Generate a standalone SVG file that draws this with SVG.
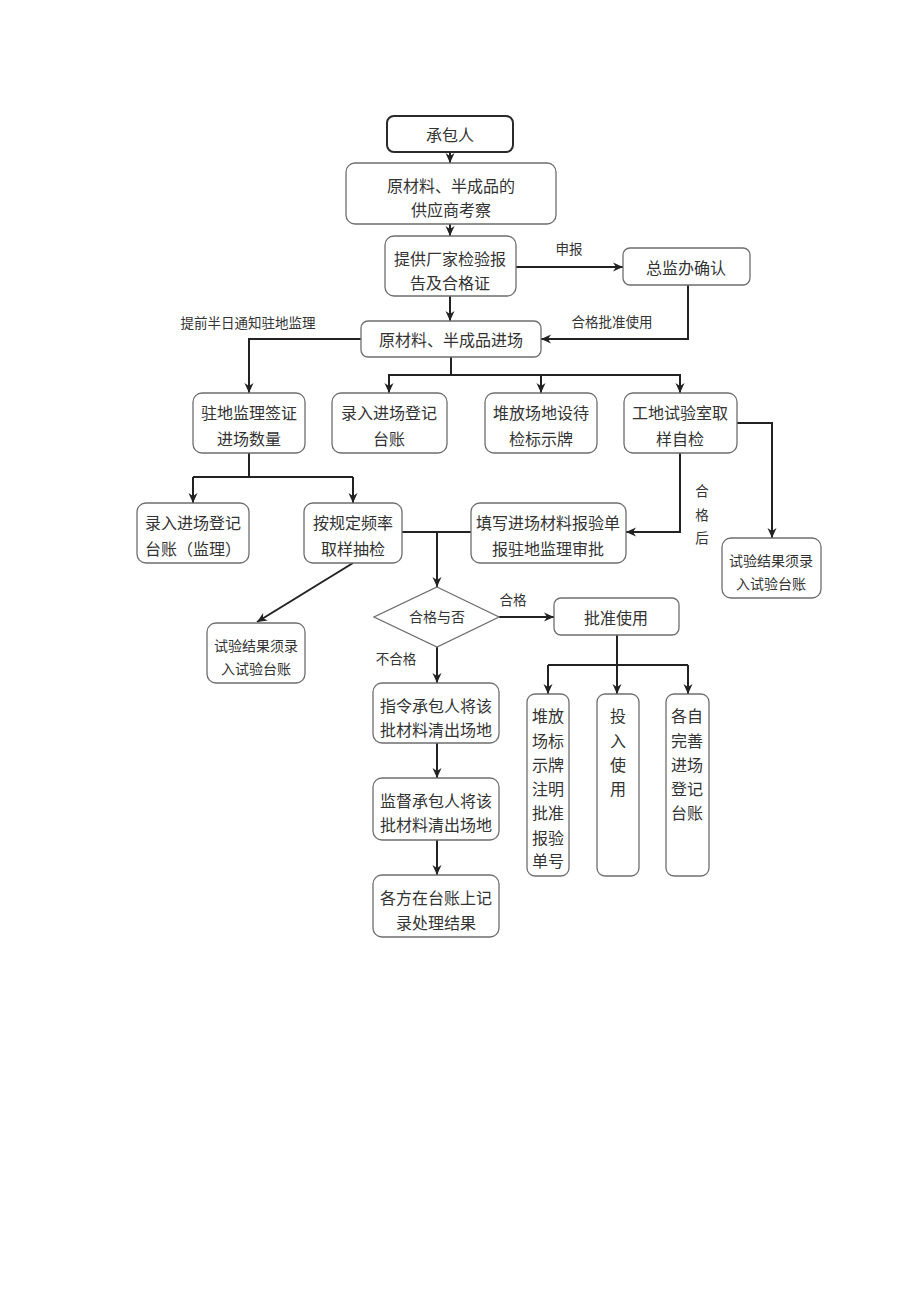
<svg xmlns="http://www.w3.org/2000/svg" width="920" height="1301" viewBox="0 0 920 1301">
<style>
.b{fill:#fff;stroke:#6e6e6e;stroke-width:1.3}
.b0{fill:#fff;stroke:#2a2a2a;stroke-width:2}
.t{font-family:"Noto Sans CJK SC","Noto Sans",sans-serif;font-size:16px;fill:#333;text-anchor:middle;dominant-baseline:central}
.s{font-size:14px}
.l{font-family:"Noto Sans CJK SC","Noto Sans",sans-serif;font-size:13.5px;fill:#333;text-anchor:middle;dominant-baseline:central}
.c{fill:none;stroke:#222;stroke-width:2}
</style>
<defs>
<marker id="a" markerUnits="userSpaceOnUse" markerWidth="10" markerHeight="10" viewBox="0 0 10 10" refX="10" refY="5" orient="auto">
<path d="M0,0.5 L10,5 L0,9.5 L3,5 Z" fill="#222"/>
</marker>
</defs>
<rect width="920" height="1301" fill="#fff"/>
<g id="connectors">
<path class="c" d="M450,152 V163" marker-end="url(#a)"/>
<path class="c" d="M450,224 V236" marker-end="url(#a)"/>
<path class="c" d="M450,296 V321" marker-end="url(#a)"/>
<path class="c" d="M516,267 H623" marker-end="url(#a)"/>
<text class="l" x="569" y="248">申报</text>
<path class="c" d="M688,285 V339 H541" marker-end="url(#a)"/>
<text class="l" x="612" y="321">合格批准使用</text>
<path class="c" d="M361,339 H249 V393" marker-end="url(#a)"/>
<text class="l" x="248" y="322">提前半日通知驻地监理</text>
<path class="c" d="M451,357 V375 M388,375 H681"/>
<path class="c" d="M389,375 V393" marker-end="url(#a)"/>
<path class="c" d="M541,375 V393" marker-end="url(#a)"/>
<path class="c" d="M680,375 V393" marker-end="url(#a)"/>
<path class="c" d="M737,423 H772 V538" marker-end="url(#a)"/>
<path class="c" d="M680,453 V532 H626" marker-end="url(#a)"/>
<text class="l" x="702" y="490">合</text>
<text class="l" x="702" y="514">格</text>
<text class="l" x="702" y="537">后</text>
<path class="c" d="M249,453 V477 M193,477 H353"/>
<path class="c" d="M193,477 V503" marker-end="url(#a)"/>
<path class="c" d="M353,477 V503" marker-end="url(#a)"/>
<path class="c" d="M402,532 H471"/>
<path class="c" d="M437,532 V587" marker-end="url(#a)"/>
<path class="c" d="M353,563 L257,622" marker-end="url(#a)"/>
<path class="c" d="M499,617 H554" marker-end="url(#a)"/>
<text class="l" x="513" y="599">合格</text>
<path class="c" d="M617,635 V665 M548,665 H688"/>
<path class="c" d="M548,665 V694" marker-end="url(#a)"/>
<path class="c" d="M617,665 V694" marker-end="url(#a)"/>
<path class="c" d="M688,665 V694" marker-end="url(#a)"/>
<path class="c" d="M437,647 V683" marker-end="url(#a)"/>
<text class="l" x="396" y="658">不合格</text>
<path class="c" d="M437,743 V778" marker-end="url(#a)"/>
<path class="c" d="M437,840 V875" marker-end="url(#a)"/>
</g>
<g id="n1"><rect class="b0" x="387" y="116" width="126" height="36" rx="7"/><text class="t" x="450" y="134">承包人</text></g>
<g id="n2"><rect class="b" x="346" y="163" width="210" height="61" rx="9"/><text class="t" x="451" y="185">原材料、半成品的</text><text class="t" x="451" y="209">供应商考察</text></g>
<g id="n3"><rect class="b" x="385" y="236" width="131" height="60" rx="9"/><text class="t" x="450" y="258">提供厂家检验报</text><text class="t" x="450" y="282">告及合格证</text></g>
<g id="n4"><rect class="b" x="623" y="248" width="127" height="37" rx="7"/><text class="t" x="686" y="267">总监办确认</text></g>
<g id="n5"><rect class="b" x="361" y="321" width="180" height="36" rx="7"/><text class="t" x="451" y="339">原材料、半成品进场</text></g>
<g id="n6"><rect class="b" x="193" y="393" width="112" height="60" rx="9"/><text class="t" x="249" y="412">驻地监理签证</text><text class="t" x="249" y="438">进场数量</text></g>
<g id="n7"><rect class="b" x="332" y="393" width="115" height="60" rx="9"/><text class="t" x="389" y="412">录入进场登记</text><text class="t" x="389" y="438">台账</text></g>
<g id="n8"><rect class="b" x="485" y="393" width="112" height="60" rx="9"/><text class="t" x="541" y="412">堆放场地设待</text><text class="t" x="541" y="438">检标示牌</text></g>
<g id="n9"><rect class="b" x="624" y="393" width="113" height="60" rx="9"/><text class="t" x="680" y="412">工地试验室取</text><text class="t" x="680" y="438">样自检</text></g>
<g id="n10"><rect class="b" x="722" y="538" width="99" height="60" rx="9"/><text class="t s" x="771" y="560">试验结果须录</text><text class="t s" x="771" y="583">入试验台账</text></g>
<g id="n11"><rect class="b" x="137" y="503" width="112" height="60" rx="9"/><text class="t" x="193" y="522">录入进场登记</text><text class="t" x="193" y="548">台账（监理）</text></g>
<g id="n12"><rect class="b" x="304" y="503" width="98" height="60" rx="9"/><text class="t" x="353" y="522">按规定频率</text><text class="t" x="353" y="548">取样抽检</text></g>
<g id="n13"><rect class="b" x="471" y="503" width="155" height="60" rx="9"/><text class="t" x="548" y="522">填写进场材料报验单</text><text class="t" x="548" y="548">报驻地监理审批</text></g>
<g id="n14"><rect class="b" x="207" y="623" width="98" height="60" rx="9"/><text class="t s" x="256" y="645">试验结果须录</text><text class="t s" x="256" y="668">入试验台账</text></g>
<g id="n15"><polygon class="b" points="437,587 499,617 437,647 374,617"/><text class="t s" x="437" y="616">合格与否</text></g>
<g id="n16"><rect class="b" x="554" y="598" width="125" height="37" rx="7"/><text class="t" x="616" y="617">批准使用</text></g>
<g id="n17"><rect class="b" x="373" y="683" width="126" height="60" rx="9"/><text class="t" x="436" y="705">指令承包人将该</text><text class="t" x="436" y="729">批材料清出场地</text></g>
<g id="n18"><rect class="b" x="373" y="778" width="126" height="62" rx="9"/><text class="t" x="436" y="800">监督承包人将该</text><text class="t" x="436" y="824">批材料清出场地</text></g>
<g id="n19"><rect class="b" x="373" y="875" width="126" height="62" rx="9"/><text class="t" x="436" y="897">各方在台账上记</text><text class="t" x="436" y="922">录处理结果</text></g>
<g id="n20"><rect class="b" x="527" y="694" width="42" height="182" rx="8"/>
<text class="t" x="548" y="715">堆放</text><text class="t" x="548" y="740">场标</text><text class="t" x="548" y="764">示牌</text><text class="t" x="548" y="788">注明</text><text class="t" x="548" y="812">批准</text><text class="t" x="548" y="837">报验</text><text class="t" x="548" y="860">单号</text></g>
<g id="n21"><rect class="b" x="597" y="694" width="42" height="182" rx="8"/>
<text class="t" x="618" y="715">投</text><text class="t" x="618" y="740">入</text><text class="t" x="618" y="764">使</text><text class="t" x="618" y="788">用</text></g>
<g id="n22"><rect class="b" x="666" y="694" width="43" height="182" rx="8"/>
<text class="t" x="687" y="715">各自</text><text class="t" x="687" y="740">完善</text><text class="t" x="687" y="764">进场</text><text class="t" x="687" y="788">登记</text><text class="t" x="687" y="812">台账</text></g>
</svg>
